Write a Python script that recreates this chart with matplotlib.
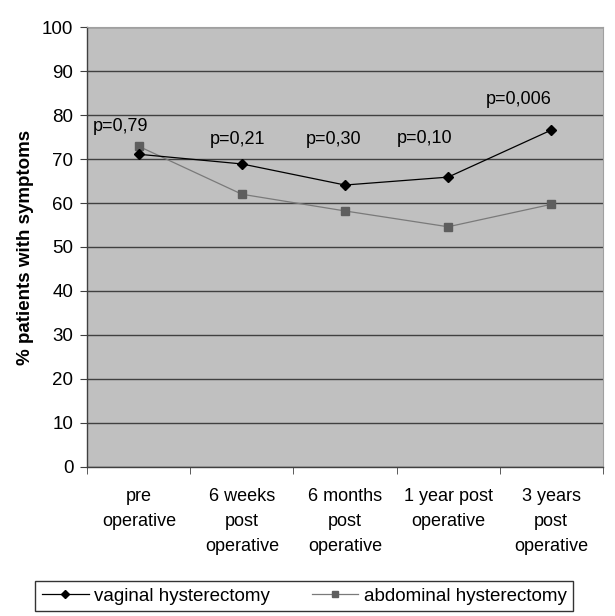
import numpy as np
import matplotlib
matplotlib.use('Agg')
import matplotlib.pyplot as plt

plt.rcParams['font.family'] = ['Liberation Sans', 'DejaVu Sans']

categories = ['pre\noperative', '6 weeks\npost\noperative', '6 months\npost\noperative',
              '1 year post\noperative', '3 years\npost\noperative']
vaginal = [71.1, 68.9, 64.1, 65.9, 76.6]
abdominal = [72.9, 62.0, 58.2, 54.6, 59.7]
p_labels = ['p=0,79', 'p=0,21', 'p=0,30', 'p=0,10', 'p=0,006']
p_x = [-0.18, 0.96, 1.89, 2.77, 3.69]
p_y = [77.4, 74.4, 74.4, 74.6, 83.6]

fig = plt.figure(figsize=(6.15, 6.16), dpi=100)
ax = fig.add_axes([0.142, 0.2424, 0.838, 0.7133])
ax.set_facecolor('#c0c0c0')

x = np.arange(len(categories))
ax.plot(x, vaginal, color='black', lw=0.9, marker='D', ms=5.5, mfc='black', mec='black',
        label='vaginal hysterectomy', zorder=4)
ax.plot(x, abdominal, color='#7a7a7a', lw=0.9, marker='s', ms=5.2, mfc='#5e5e5e', mec='#5e5e5e',
        label='abdominal hysterectomy', zorder=3)

for t, px, py in zip(p_labels, p_x, p_y):
    ax.text(px, py, t, ha='center', va='center', fontsize=13, zorder=5)

ax.set_xlim(-0.5, len(categories) - 0.5)
ax.set_ylim(0, 100)
ax.set_yticks(np.arange(0, 101, 10))
ax.yaxis.grid(True, color='#404040', lw=1.0)
ax.set_axisbelow(True)

ax.set_xticks(x)
ax.set_xticklabels(categories, fontsize=13, linespacing=1.65)
ax.set_xticks(np.arange(-0.5, len(categories), 1), minor=True)
ax.tick_params(axis='x', which='major', length=0, pad=15)
ax.tick_params(axis='x', which='minor', length=5, direction='out', color='#404040')
ax.tick_params(axis='y', length=5, direction='out', color='#404040', labelsize=13.5, pad=5)

for s in ['top', 'right']:
    ax.spines[s].set_color('#a0a0a0')
    ax.spines[s].set_linewidth(0.8)
for s in ['left', 'bottom']:
    ax.spines[s].set_color('#404040')
    ax.spines[s].set_linewidth(1.0)

ax.set_ylabel('% patients with symptoms', fontsize=13.5, fontweight='bold', labelpad=6)

leg = fig.legend(loc='center', bbox_to_anchor=(0.495, 0.0325), ncol=2, fontsize=13.5,
                 frameon=True, fancybox=False, edgecolor='black', handlelength=2.5,
                 columnspacing=2.2, handletextpad=0.3, borderpad=0.35, markerscale=0.7)
leg.get_frame().set_linewidth(1.0)

fig.savefig('out.png', dpi=100)
